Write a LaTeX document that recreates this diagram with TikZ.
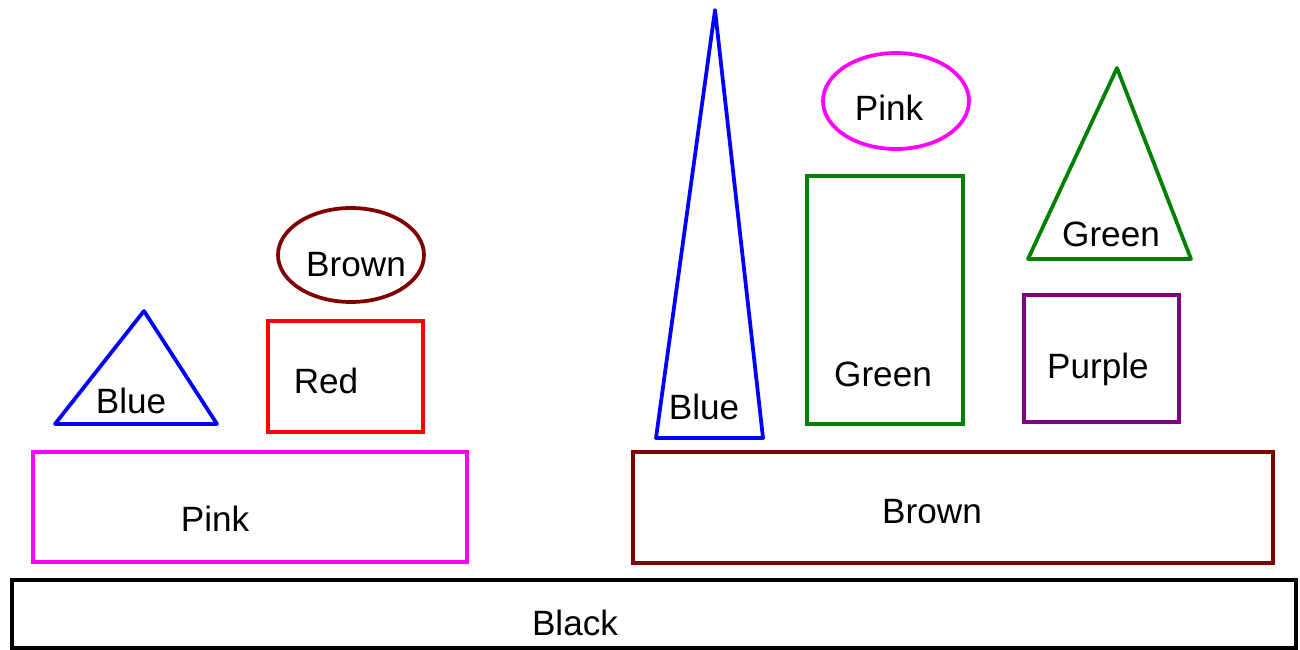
\documentclass[tikz,border=0pt]{standalone}
\usepackage{fontspec}
\setmainfont{Liberation Sans}
\definecolor{pinkc}{RGB}{255,0,255}
\definecolor{brownc}{RGB}{128,0,0}
\definecolor{greenc}{RGB}{0,128,0}
\definecolor{purplec}{RGB}{128,0,128}

\begin{document}
\begin{tikzpicture}[x=0.2mm,y=-0.2mm,line width=0.75mm,line join=miter,
 lbl/.style={anchor=base,inner sep=0pt,font=\fontsize{20}{24}\selectfont}]
 \useasboundingbox (0,0) rectangle (1300,650);

 \draw (12,580) rectangle (1296,648); %黒
 \node[lbl] (black) at (575,635) {Black};

 \draw[pinkc] (33,452) rectangle (467,562); %左の台
 \node[lbl] (pinkbase) at (215,531) {Pink};
 \draw[blue,line join=round] (144,311)--(217,424)--(55,424)--cycle; %左の三角形
 \node[lbl] (blueleft) at (131,413) {Blue};
 \draw[red] (268,321) rectangle (423,432); %赤
 \node[lbl] (red) at (326,393) {Red};
 \draw[brownc] (351,255) ellipse [x radius=73,y radius=47]; %茶の楕円
 \node[lbl] (brownoval) at (356,276) {Brown};

 \draw[brownc] (633,452) rectangle (1273,563); %右の台
 \node[lbl] (brownbase) at (932,523) {Brown};
 \draw[blue,line join=round] (715,10)--(763,438)--(656,438)--cycle; %細長い三角形
 \node[lbl] (blueright) at (704,419) {Blue};
 \draw[greenc] (807,176) rectangle (963,424); %緑の長方形
 \node[lbl] (greenbox) at (883,386) {Green};
 \draw[pinkc] (896,101) ellipse [x radius=73,y radius=48]; %ピンクの楕円
 \node[lbl] (pinkoval) at (889,120) {Pink};
 \draw[greenc,line join=round] (1117,68)--(1191,259)--(1028,259)--cycle; %緑の三角形
 \node[lbl] (greentri) at (1111,246) {Green};
 \draw[purplec] (1024,295) rectangle (1179,422); %紫
 \node[lbl] (purple) at (1098,378) {Purple};
\end{tikzpicture}
\end{document}
